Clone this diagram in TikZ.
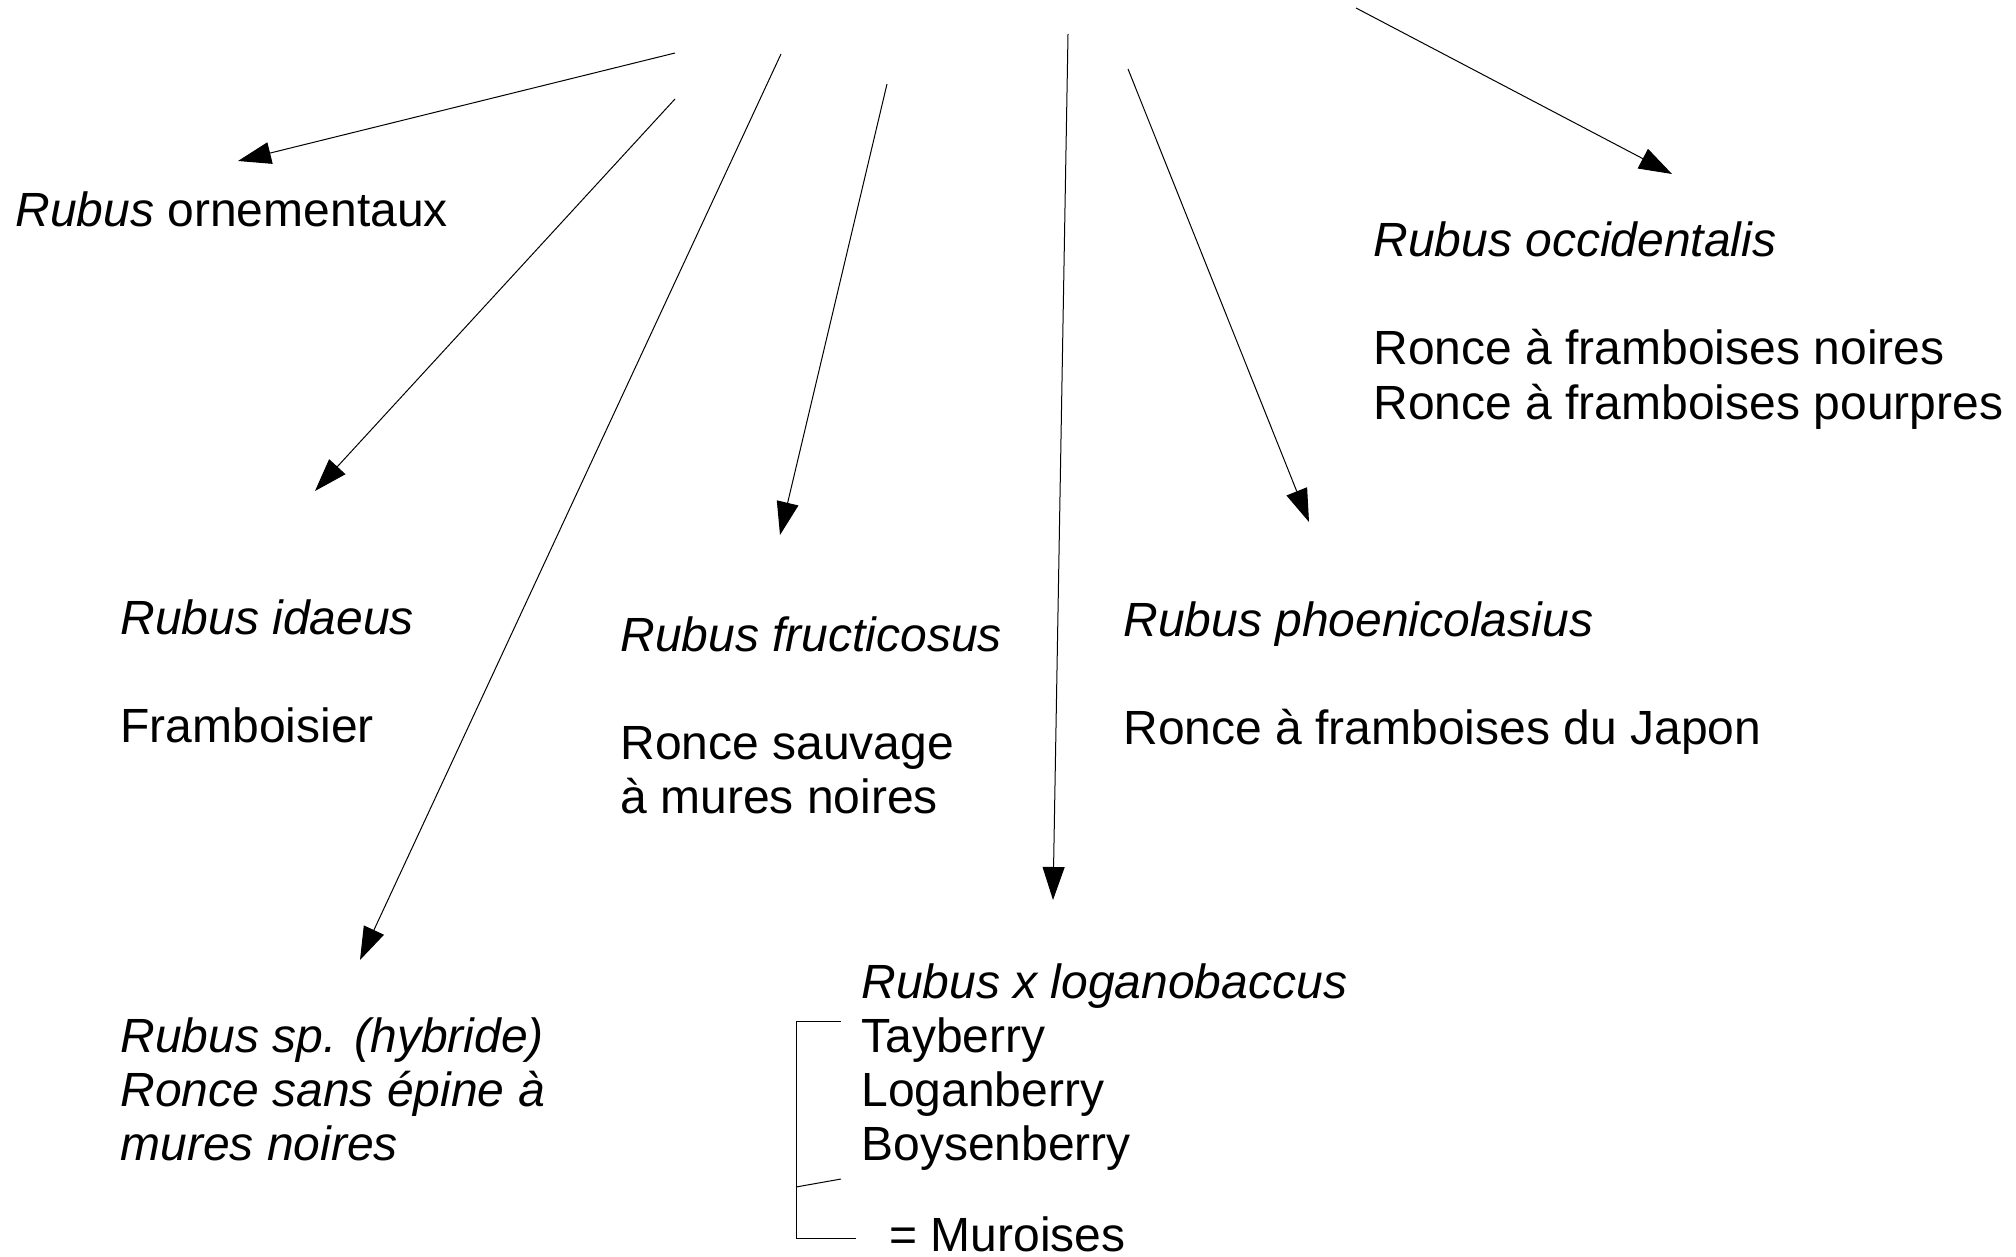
\documentclass[tikz,border=0pt]{standalone}
\usepackage{fontspec}
\setmainfont{Liberation Sans}
\usetikzlibrary{arrows.meta,positioning,calc}

\begin{document}
\begin{tikzpicture}[
    x=0.5bp, y=-0.5bp,
    >={Triangle[length=16.5bp,width=11bp]},
    lab/.style={anchor=base west, inner sep=0pt, align=left, font=\fontsize{24bp}{27bp}\selectfont},
    line width=0.5bp]
  \useasboundingbox (0,0) rectangle (2016,1257);
  % species and names (base = last line)
  \node[lab] (orn) at (15,227) {\textit{Rubus} ornementaux};
  \node[lab] (occi) at (1373,419) {\textit{Rubus occidentalis}\\[27bp] Ronce à framboises noires\\ Ronce à framboises pourpres};
  \node[lab] (idae) at (120,742) {\textit{Rubus idaeus}\\[27bp] Framboisier};
  \node[lab] (fruc) at (620,813) {\textit{Rubus fructicosus}\\[27bp] Ronce sauvage\\ à mures noires};
  \node[lab] (phoe) at (1123,744) {\textit{Rubus phoenicolasius}\\[27bp] Ronce à framboises du Japon};
  \node[lab] (hyb) at (120,1160) {\textit{Rubus sp. (hybride)}\\ \textit{Ronce sans épine à}\\ \textit{mures noires}};
  \node[lab] (loga) at (861,1160) {\textit{Rubus x loganobaccus}\\ Tayberry\\ Loganberry\\ Boysenberry};
  \node[lab] (mur) at (889,1251) {= Muroises};
  % arrows
  \coordinate (s1) at (675,53);   \coordinate (t1) at (238,161);
  \coordinate (s2) at (675,99);   \coordinate (t2) at (315,491);
  \coordinate (s3) at (781,54);   \coordinate (t3) at (360,960);
  \coordinate (s4) at (887,84);   \coordinate (t4) at (780,535);
  \coordinate (s5) at (1068,34);  \coordinate (t5) at (1053,900);
  \coordinate (s6) at (1128,69);  \coordinate (t6) at (1309,522);
  \coordinate (s7) at (1356,8);   \coordinate (t7) at (1672,174);
  \foreach \i in {1,...,7} { \draw[->] (s\i) -- (t\i); }
  % bracket
  \coordinate (b1) at (841,1021); \coordinate (b2) at (796,1021);
  \coordinate (b3) at (796,1238); \coordinate (b4) at (856,1238);
  \coordinate (b5) at (796,1187); \coordinate (b6) at (841,1179);
  \draw (b1) -- (b2) -- (b3) -- (b4);
  \draw (b5) -- (b6);
\end{tikzpicture}
\end{document}
